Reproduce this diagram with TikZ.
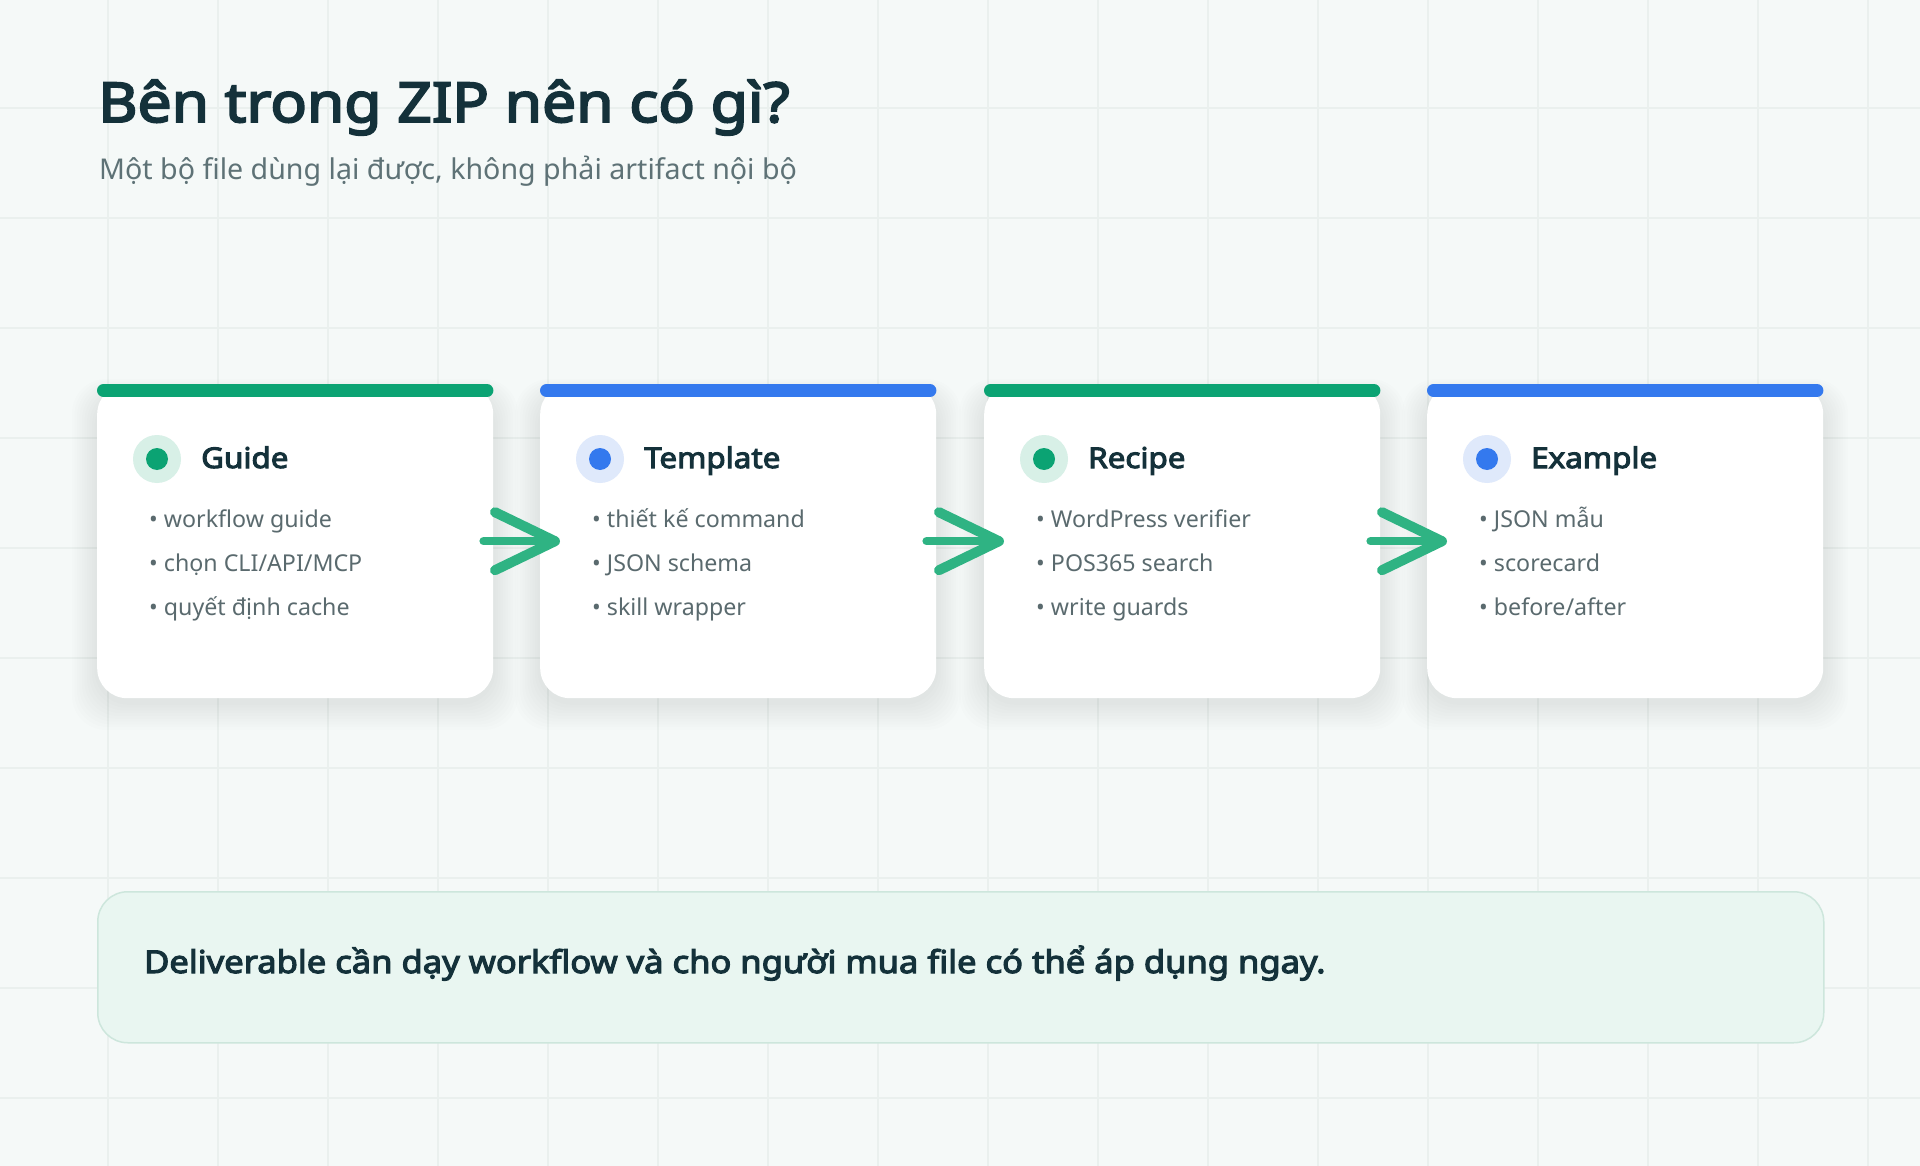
\documentclass[tikz,border=0pt]{standalone}
\usepackage{fontspec}
\setmainfont{Noto Sans}[BoldFont={Noto Sans}, BoldFeatures={FakeBold=3.6, FakeStretch=1.1}]
\usetikzlibrary{calc}
\definecolor{bgcol}{HTML}{F5F9F8}
\definecolor{gridcol}{HTML}{EAF0EE}
\definecolor{greenc}{HTML}{0BA373}
\definecolor{bluec}{HTML}{3479EE}
\definecolor{greenlight}{HTML}{D8F0E7}
\definecolor{bluelight}{HTML}{DFE9FB}
\definecolor{titlecol}{HTML}{14313A}
\definecolor{subcol}{HTML}{5E7276}
\definecolor{bulletcol}{HTML}{5A6A6E}
\definecolor{boxfill}{HTML}{E9F6F1}
\definecolor{boxdraw}{HTML}{CDE6DC}
\definecolor{arrowcol}{HTML}{2FB383}
\tikzset{
  cardbox/.style={fill=white, rounded corners=30pt, minimum width=396pt, minimum height=314pt, anchor=north west, inner sep=0pt},
  topbar/.style={line width=13pt, line cap=round},
  iconout/.style={circle, minimum size=48pt, inner sep=0pt},
  iconin/.style={circle, minimum size=22pt, inner sep=0pt},
  cardtitle/.style={anchor=base west, inner sep=0pt, text=titlecol, font=\fontsize{28.5}{34}\selectfont\bfseries},
  bulletitem/.style={anchor=base west, inner sep=0pt, text=bulletcol, font=\fontsize{23.2}{28}\selectfont},
  flowshaft/.style={draw=arrowcol, line width=8pt, line cap=round},
  flowhead/.style={draw=arrowcol, line width=10pt, line cap=round, line join=round},
  gridline/.style={draw=gridcol, line width=1.2pt},
}
\newcommand\mycard[8]{%
  \foreach \k in {1,...,10}{
    \fill[black, opacity=0.008, rounded corners=34pt] (#2-\k*2.5, 394-\k*1.5) rectangle (#2+396+\k*2.5, 702+\k*2.8);
  }
  \node[cardbox] (#1) at (#2,384) {};
  \draw[topbar, #3] ($(#1.north west)+(6.5,6.5)$) -- ($(#1.north east)+(-6.5,6.5)$);
  \node[iconout, fill=#4] (#1o) at (#2+60,459) {};
  \node[iconin, fill=#3] (#1i) at (#1o.center) {};
  \node[cardtitle] (#1t) at (#2+104,468) {#5};
  \node[bulletitem] (#1a) at (#2+52,527) {• #6};
  \node[bulletitem] (#1b) at (#2+52,571) {• #7};
  \node[bulletitem] (#1c) at (#2+52,615) {• #8};
}
\begin{document}
\begin{tikzpicture}[x=1pt,y=-1pt]
\useasboundingbox (0,0) rectangle (1920,1166);
\fill[bgcol] (0,0) rectangle (1920,1166);
\foreach \g in {108,218,...,1868} \draw[gridline] (\g,0) -- (\g,1166);
\foreach \g in {108,218,...,1098} \draw[gridline] (0,\g) -- (1920,\g);

\node[anchor=base west, inner sep=0pt, text=titlecol, font=\fontsize{55}{66}\selectfont\bfseries] (title) at (98,122) {Bên trong ZIP nên có gì?};
\node[anchor=base west, inner sep=0pt, text=subcol, font=\fontsize{28.6}{34}\selectfont] (subtitle) at (99,180) {Một bộ file dùng lại được, không phải artifact nội bộ};

\mycard{c1}{97}{greenc}{greenlight}{Guide}{workflow guide}{chọn CLI/API/MCP}{quyết định cache}
\mycard{c2}{540}{bluec}{bluelight}{Template}{thiết kế command}{JSON schema}{skill wrapper}
\mycard{c3}{984}{greenc}{greenlight}{Recipe}{WordPress verifier}{POS365 search}{write guards}
\mycard{c4}{1427}{bluec}{bluelight}{Example}{JSON mẫu}{scorecard}{before/after}

\foreach \a/\b in {c1/c2,c2/c3,c3/c4}{
  \draw[flowshaft] ([xshift=-10pt]\a.east) -- ([xshift=10pt]\b.west);
  \draw[flowhead] ([xshift=-45pt,yshift=29pt]\b.west) -- ([xshift=15pt]\b.west) -- ([xshift=-45pt,yshift=-29pt]\b.west);
}

\node[draw=boxdraw, fill=boxfill, rounded corners=30pt, line width=1.5pt, minimum width=1726pt, minimum height=151pt, anchor=north west, inner sep=0pt] (note) at (97,891) {};
\node[anchor=base west, inner sep=0pt, text=titlecol, font=\fontsize{31.4}{36}\selectfont\bfseries] (notetext) at (144,973) {Deliverable cần dạy workflow và cho người mua file có thể áp dụng ngay.};
\end{tikzpicture}
\end{document}
